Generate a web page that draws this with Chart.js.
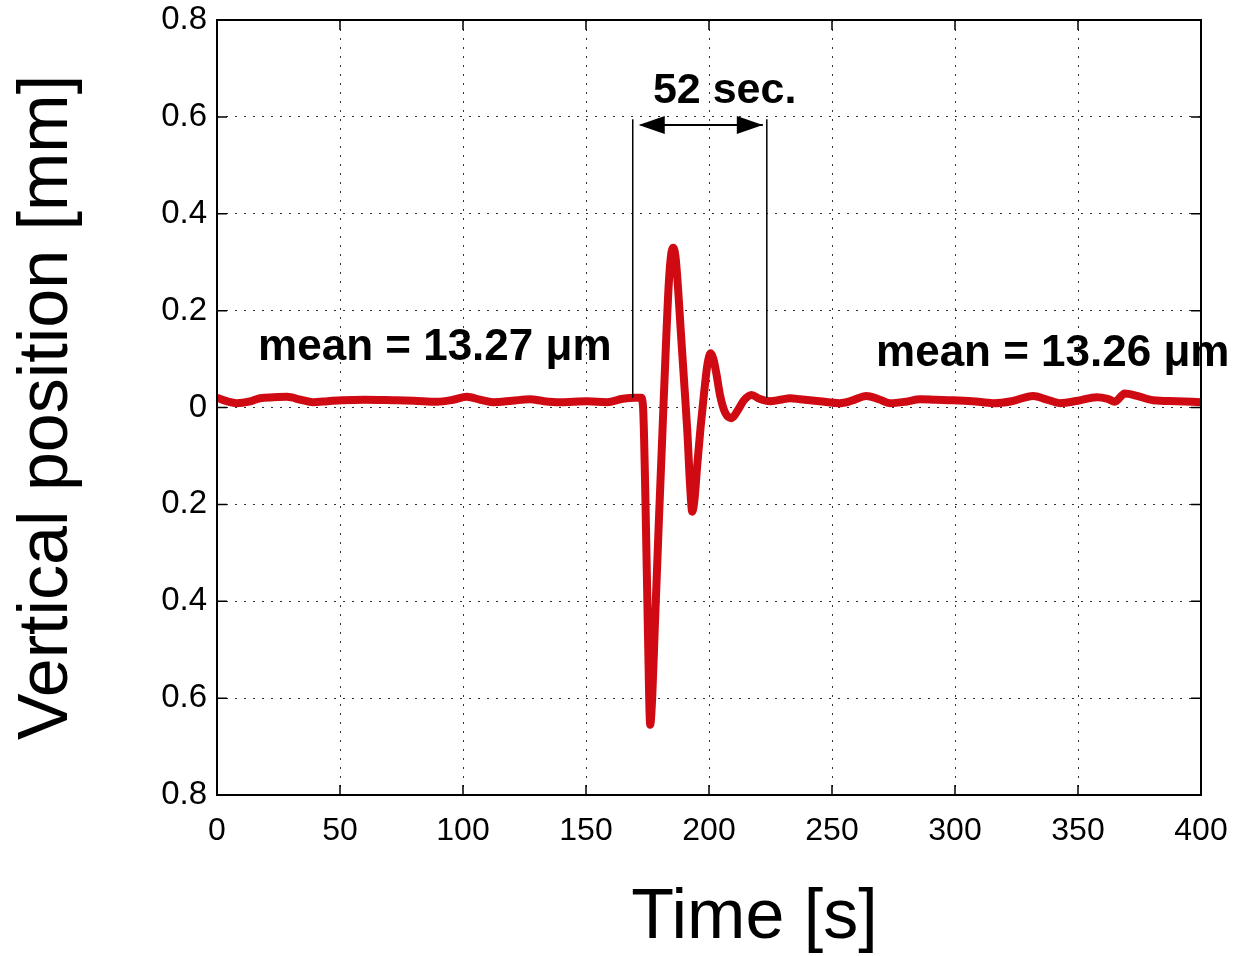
<!DOCTYPE html>
<html>
<head>
<meta charset="utf-8">
<title>Vertical position</title>
<script src="https://cdn.jsdelivr.net/npm/chart.js@4/dist/chart.umd.min.js"></script>
<style>
  html, body { margin: 0; padding: 0; background: #fff; }
  #chart { display: block; }
</style>
</head>
<body>
<canvas id="chart" width="1236" height="956"></canvas>
<script>
// time axis [s]
const times = [
    0, 4, 8, 13, 17.5, 23, 28.5, 34, 39, 45, 51, 60, 71.5, 80, 89.4, 96, 101.6, 107, 112.2,
    120, 127.2, 133, 139.4, 145, 150.4, 158.5, 165, 170, 172.4,
    173.2, 174.2, 175.2, 176.1, 176.9, 178, 179.5, 181, 182.5, 183.7, 184.6, 185.5,
    186.4, 187.5, 188.5, 189.8, 191.2, 192.3, 193.2, 194.1, 195.2, 196.6, 198, 199.4, 200.7,
    201.8, 203, 204.5, 206.5, 209.2, 211.8, 214.2, 217.3, 220.5, 224.8, 229, 233,
    237, 245, 253, 258, 264, 269, 273.6, 280, 285.8, 292, 299, 307, 315.6, 323, 331.8,
    337, 342.7, 350, 357.6, 362, 365, 369, 374, 380.5, 390, 400
];

// vertical position [mm]
const position = [
    0.02, 0.013, 0.009, 0.012, 0.019, 0.021, 0.022, 0.016, 0.011, 0.013, 0.015, 0.016, 0.015, 0.014, 0.012, 0.016, 0.022, 0.016, 0.011,
    0.014, 0.017, 0.013, 0.011, 0.012, 0.013, 0.011, 0.018, 0.02, 0.02,
    0.0, -0.2, -0.47, -0.655, -0.6, -0.45, -0.25, -0.06, 0.13, 0.26, 0.315, 0.33,
    0.31, 0.24, 0.16, 0.06, -0.05, -0.16, -0.215, -0.19, -0.12, -0.04, 0.03, 0.09, 0.112,
    0.1, 0.07, 0.025, -0.01, -0.022, -0.005, 0.015, 0.026, 0.018, 0.013, 0.016, 0.019,
    0.017, 0.013, 0.009, 0.014, 0.024, 0.017, 0.009, 0.012, 0.017, 0.016, 0.015, 0.013, 0.009, 0.013, 0.024,
    0.017, 0.009, 0.014, 0.021, 0.018, 0.012, 0.029, 0.024, 0.015, 0.013, 0.011
];

const xTicks = [0, 50, 100, 150, 200, 250, 300, 350, 400];
const yTicks = [-0.8, -0.6, -0.4, -0.2, 0, 0.2, 0.4, 0.6, 0.8];

// annotations (data coordinates)
const spanStart = 169;
const spanEnd = 223.5;
const spanLabel = '52 sec.';
const meanLabels = [
    { text: 'mean = 13.27 \u03bcm', t: 16.7, v: 0.098 },
    { text: 'mean = 13.26 \u03bcm', t: 267.9, v: 0.086 }
];

const FONT = '"Liberation Sans", Arial, Helvetica, sans-serif';

// box, inward ticks, bracket, arrow and text labels
const overlay = {
    id: 'overlay',
    afterDraw(chart) {
        const { ctx, chartArea: a, scales: { x, y } } = chart;
        ctx.save();

        // inward tick marks
        ctx.strokeStyle = '#000';
        ctx.lineWidth = 1.5;
        ctx.beginPath();
        xTicks.forEach(t => {
            const px = x.getPixelForValue(t);
            ctx.moveTo(px, a.bottom); ctx.lineTo(px, a.bottom - 10);
            ctx.moveTo(px, a.top); ctx.lineTo(px, a.top + 10);
        });
        yTicks.forEach(v => {
            const py = y.getPixelForValue(v);
            ctx.moveTo(a.left, py); ctx.lineTo(a.left + 10, py);
            ctx.moveTo(a.right, py); ctx.lineTo(a.right - 10, py);
        });
        ctx.stroke();

        // frame
        ctx.lineWidth = 2;
        ctx.strokeRect(a.left, a.top, a.right - a.left, a.bottom - a.top);

        // 52 sec. bracket
        const x1 = x.getPixelForValue(spanStart);
        const x2 = x.getPixelForValue(spanEnd);
        const yTop = y.getPixelForValue(0.595);
        const yBot = y.getPixelForValue(0.02);
        const yArr = y.getPixelForValue(0.583);
        ctx.lineWidth = 1.5;
        ctx.beginPath();
        ctx.moveTo(x1, yTop); ctx.lineTo(x1, yBot);
        ctx.moveTo(x2, yTop); ctx.lineTo(x2, yBot);
        ctx.stroke();

        ctx.lineWidth = 2;
        ctx.beginPath();
        ctx.moveTo(x1 + 8, yArr); ctx.lineTo(x2 - 4, yArr);
        ctx.stroke();
        ctx.fillStyle = '#000';
        ctx.beginPath();
        ctx.moveTo(x1 + 6, yArr); ctx.lineTo(x1 + 32, yArr - 9); ctx.lineTo(x1 + 32, yArr + 9);
        ctx.closePath(); ctx.fill();
        ctx.beginPath();
        ctx.moveTo(x2 - 4, yArr); ctx.lineTo(x2 - 30, yArr - 9); ctx.lineTo(x2 - 30, yArr + 9);
        ctx.closePath(); ctx.fill();

        ctx.font = 'bold 43px ' + FONT;
        ctx.textAlign = 'left';
        ctx.textBaseline = 'alphabetic';
        ctx.fillText(spanLabel, x.getPixelForValue(177.2), y.getPixelForValue(0.628));

        ctx.font = 'bold 44px ' + FONT;
        meanLabels.forEach(m => {
            ctx.fillText(m.text, x.getPixelForValue(m.t), y.getPixelForValue(m.v));
        });

        // x title
        ctx.font = '70px ' + FONT;
        ctx.textAlign = 'center';
        ctx.fillText('Time [s]', x.getPixelForValue(218.5), a.bottom + 143);

        ctx.restore();
    }
};

new Chart(document.getElementById('chart'), {
    type: 'line',
    data: {
        datasets: [{
            data: times.map((t, i) => ({ x: t, y: position[i] })),
            borderColor: '#cf0a12',
            borderWidth: 8,
            pointRadius: 0,
            cubicInterpolationMode: 'monotone',
            fill: false
        }]
    },
    options: {
        responsive: false,
        animation: false,
        devicePixelRatio: 1,
        layout: { padding: { left: 0, right: 35, top: 20, bottom: 0 } },
        plugins: {
            legend: { display: false },
            tooltip: { enabled: false }
        },
        scales: {
            x: {
                type: 'linear',
                min: 0,
                max: 400,
                afterFit: (scale) => {
                    scale.height = 161;
                    scale.paddingLeft = 0;
                    scale.paddingRight = 0;
                },
                afterBuildTicks: (scale) => { scale.ticks = xTicks.map(v => ({ value: v })); },
                ticks: {
                    color: '#000',
                    font: { family: FONT, size: 32 },
                    padding: 17,
                    maxRotation: 0
                },
                grid: { color: '#333', lineWidth: 1, drawTicks: false },
                border: { display: false, dash: [2, 7] }
            },
            y: {
                min: -0.8,
                max: 0.8,
                afterFit: (scale) => {
                    scale.width = 217;
                    scale.paddingTop = 0;
                    scale.paddingBottom = 0;
                },
                afterBuildTicks: (scale) => { scale.ticks = yTicks.map(v => ({ value: v })); },
                ticks: {
                    color: '#000',
                    font: { family: FONT, size: 33 },
                    padding: 10,
                    callback: (v) => v === 0 ? '0' : Math.abs(v).toFixed(1)
                },
                title: {
                    display: true,
                    text: 'Vertical position [mm]',
                    color: '#000',
                    font: { family: FONT, size: 70 },
                    padding: { top: 6, bottom: 0 }
                },
                grid: { color: '#333', lineWidth: 1, drawTicks: false },
                border: { display: false, dash: [2, 7] }
            }
        }
    },
    plugins: [overlay]
});
</script>
</body>
</html>
